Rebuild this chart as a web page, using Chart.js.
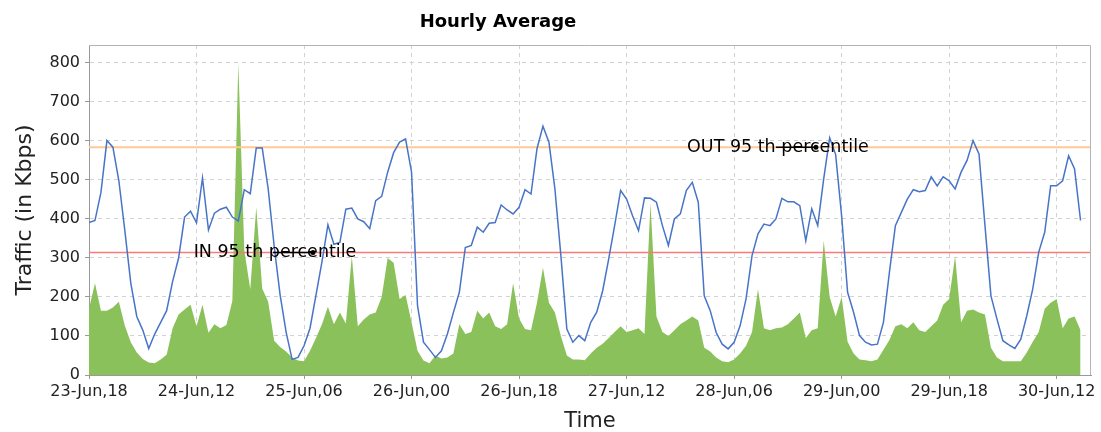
<!DOCTYPE html>
<html lang="en">
  <head>
    <meta charset="UTF-8" />
    <title>Hourly Average</title>
    <script src="https://cdn.jsdelivr.net/npm/chart.js@4"></script>
    <style>
      body { margin: 0; background: #fff; }
    </style>
  </head>
  <body>
    <canvas id="myChart" width="1101" height="432"></canvas>

    <script>
      // x axis: hours since 23-Jun 18:00, one tick every 18 hours
      const tickLabels = ['23-Jun,18', '24-Jun,12', '25-Jun,06', '26-Jun,00', '26-Jun,18',
        '27-Jun,12', '28-Jun,06', '29-Jun,00', '29-Jun,18', '30-Jun,12'];

      // OUT traffic (blue line), hourly, Kbps
      const outTraffic = [
        391, 396, 468, 601, 584, 498, 370, 235, 150, 115,
        68, 105, 135, 165, 240, 300, 405, 420, 390, 505,
        372, 415, 425, 430, 405, 395, 475, 465, 582, 582,
        477, 330, 205, 110, 40, 45, 75, 120, 205, 290,
        385, 335, 340, 425, 428, 400, 393, 375, 447, 458,
        520, 570, 597, 605, 520, 178, 84, 65, 45, 62,
        105, 160, 212, 327, 332, 379, 366, 389, 391, 436,
        423, 413, 430, 475, 464, 580, 638, 597, 477, 306,
        118, 84, 101, 88, 135, 161, 216, 297, 383, 473,
        451, 408, 370, 454, 453, 443, 383, 332, 400, 413,
        473, 494, 443, 203, 165, 109, 79, 67, 84, 126,
        195, 306, 362, 387, 383, 400, 453, 444, 444, 434,
        344, 426, 383, 503, 608, 565, 408, 212, 161, 101,
        84, 77, 79, 135, 263, 383, 417, 451, 475, 470,
        473, 508, 485, 508, 498, 477, 520, 550, 601, 567,
        383, 203, 144, 88, 77, 68, 92, 152, 221, 315,
        366, 485, 485, 498, 562, 528, 396
      ];

      // IN traffic (green area), hourly, Kbps
      const inTraffic = [
        170, 235, 165, 165, 173, 188, 126, 84, 58, 41,
        32, 30, 40, 52, 120, 155, 168, 180, 125, 180,
        108, 130, 120, 128, 190, 800, 320, 220, 430, 222,
        188, 88, 72, 60, 45, 37, 35, 62, 95, 130,
        175, 130, 160, 132, 305, 125, 142, 155, 160, 200,
        300, 288, 195, 205, 135, 62, 37, 30, 50, 42,
        45, 55, 130, 105, 110, 165, 145, 160, 125, 118,
        130, 235, 145, 118, 115, 185, 275, 185, 160, 100,
        50, 40, 40, 38, 55, 70, 80, 95, 110, 125,
        110, 115, 120, 105, 440, 150, 110, 100, 115, 130,
        140, 150, 140, 70, 60, 45, 35, 33, 40, 55,
        75, 110, 220, 120, 115, 120, 122, 130, 145, 160,
        95, 115, 120, 345, 200, 150, 200, 85, 55, 40,
        38, 35, 40, 65, 90, 125, 130, 120, 135, 115,
        110, 125, 140, 180, 195, 305, 135, 165, 168, 160,
        155, 70, 45, 35, 35, 35, 35, 58, 85, 110,
        170, 185, 195, 120, 145, 150, 115
      ];

      const in95 = 314;
      const out95 = 584;

      // percentile notes: text, hour of the marker, value of the marker
      const noteTexts = ['IN 95 th percentile', 'OUT 95 th percentile'];
      const noteHours = [37.5, 121.7];
      const noteValues = [in95, out95];

      const xMax = 167.75;
      const yMax = 846;

      const toPoints = arr => arr.map((v, i) => ({ x: i, y: v }));

      const overlay = {
        id: 'overlay',
        afterDatasetsDraw(chart) {
          const { ctx, chartArea, scales } = chart;
          ctx.save();
          // top and right frame of the plot
          ctx.strokeStyle = '#b4b4b4';
          ctx.lineWidth = 1;
          ctx.beginPath();
          ctx.moveTo(chartArea.left, chartArea.top + 0.5);
          ctx.lineTo(chartArea.right - 0.5, chartArea.top + 0.5);
          ctx.lineTo(chartArea.right - 0.5, chartArea.bottom);
          ctx.stroke();

          // percentile notes
          ctx.font = '17.5px "DejaVu Sans"';
          ctx.textAlign = 'center';
          ctx.textBaseline = 'middle';
          noteTexts.forEach((txt, i) => {
            const px = scales.x.getPixelForValue(noteHours[i]);
            const py = scales.y.getPixelForValue(noteValues[i]);
            ctx.fillStyle = '#000';
            ctx.fillText(txt, px - 38, py);
            ctx.strokeStyle = '#000';
            ctx.lineWidth = 1.5;
            ctx.beginPath();
            ctx.moveTo(px - 40, py);
            ctx.lineTo(px, py);
            ctx.stroke();
            ctx.beginPath();
            ctx.arc(px, py, 2.5, 0, Math.PI * 2);
            ctx.fill();
          });
          ctx.restore();
        },
        afterDraw(chart) {
          const ctx = chart.ctx;
          ctx.save();
          ctx.font = 'bold 18px "DejaVu Sans"';
          ctx.fillStyle = '#000';
          ctx.textAlign = 'center';
          ctx.textBaseline = 'middle';
          ctx.fillText('Hourly Average', 498, 22);
          ctx.restore();
        }
      };

      const ctx = document.getElementById('myChart').getContext('2d');
      const myChart = new Chart(ctx, {
        type: 'line',
        data: {
          datasets: [
            {
              label: 'OUT',
              data: toPoints(outTraffic),
              borderColor: 'rgb(72, 116, 200)',
              borderWidth: 1.5,
              pointRadius: 0,
              fill: false,
              tension: 0,
              order: 0
            },
            {
              label: 'IN 95',
              data: [{ x: 0, y: in95 }, { x: xMax, y: in95 }],
              borderColor: 'rgb(255, 120, 120)',
              borderWidth: 1.5,
              pointRadius: 0,
              fill: false,
              order: 1
            },
            {
              label: 'OUT 95',
              data: [{ x: 0, y: out95 }, { x: xMax, y: out95 }],
              borderColor: 'rgb(255, 200, 150)',
              borderWidth: 2,
              pointRadius: 0,
              fill: false,
              order: 1
            },
            {
              label: 'IN',
              data: toPoints(inTraffic),
              borderWidth: 0,
              borderColor: 'rgba(0,0,0,0)',
              backgroundColor: 'rgb(139, 193, 90)',
              pointRadius: 0,
              fill: 'origin',
              tension: 0,
              order: 2
            }
          ]
        },
        options: {
          responsive: false,
          animation: false,
          devicePixelRatio: 1,
          layout: { padding: { top: 45, right: 10, left: 0, bottom: 0 } },
          plugins: {
            legend: { display: false },
            tooltip: { enabled: false },
            title: { display: false }
          },
          scales: {
            x: {
              type: 'linear',
              min: 0,
              max: xMax,
              afterFit: s => { s.height = 57; },
              border: { display: true, color: '#999', width: 1, dash: [4, 4] },
              grid: {
                color: '#d2d2d2',
                tickBorderDash: [],
                tickColor: '#999',
                tickLength: 4
              },
              ticks: {
                stepSize: 18,
                includeBounds: false,
                autoSkip: false,
                maxRotation: 0,
                padding: 3,
                color: '#222',
                font: { family: 'DejaVu Sans', size: 16 },
                callback: v => tickLabels[Math.round(v / 18)]
              },
              title: {
                display: true,
                text: 'Time',
                color: '#222',
                font: { family: 'DejaVu Sans', size: 21, lineHeight: 1 },
                padding: { top: 0, bottom: 0 }
              }
            },
            y: {
              min: 0,
              max: yMax,
              afterFit: s => { s.width = 89; },
              border: { display: true, color: '#999', width: 1, dash: [4, 4] },
              grid: {
                color: '#d2d2d2',
                tickBorderDash: [],
                tickColor: '#999',
                tickLength: 4
              },
              ticks: {
                stepSize: 100,
                includeBounds: false,
                padding: 5,
                color: '#222',
                font: { family: 'DejaVu Sans', size: 16 }
              },
              title: {
                display: true,
                text: 'Traffic (in Kbps)',
                color: '#222',
                font: { family: 'DejaVu Sans', size: 22, lineHeight: 1.2 },
                padding: { top: 12, bottom: 0 }
              }
            }
          }
        },
        plugins: [overlay]
      });
    </script>
  </body>
</html>
